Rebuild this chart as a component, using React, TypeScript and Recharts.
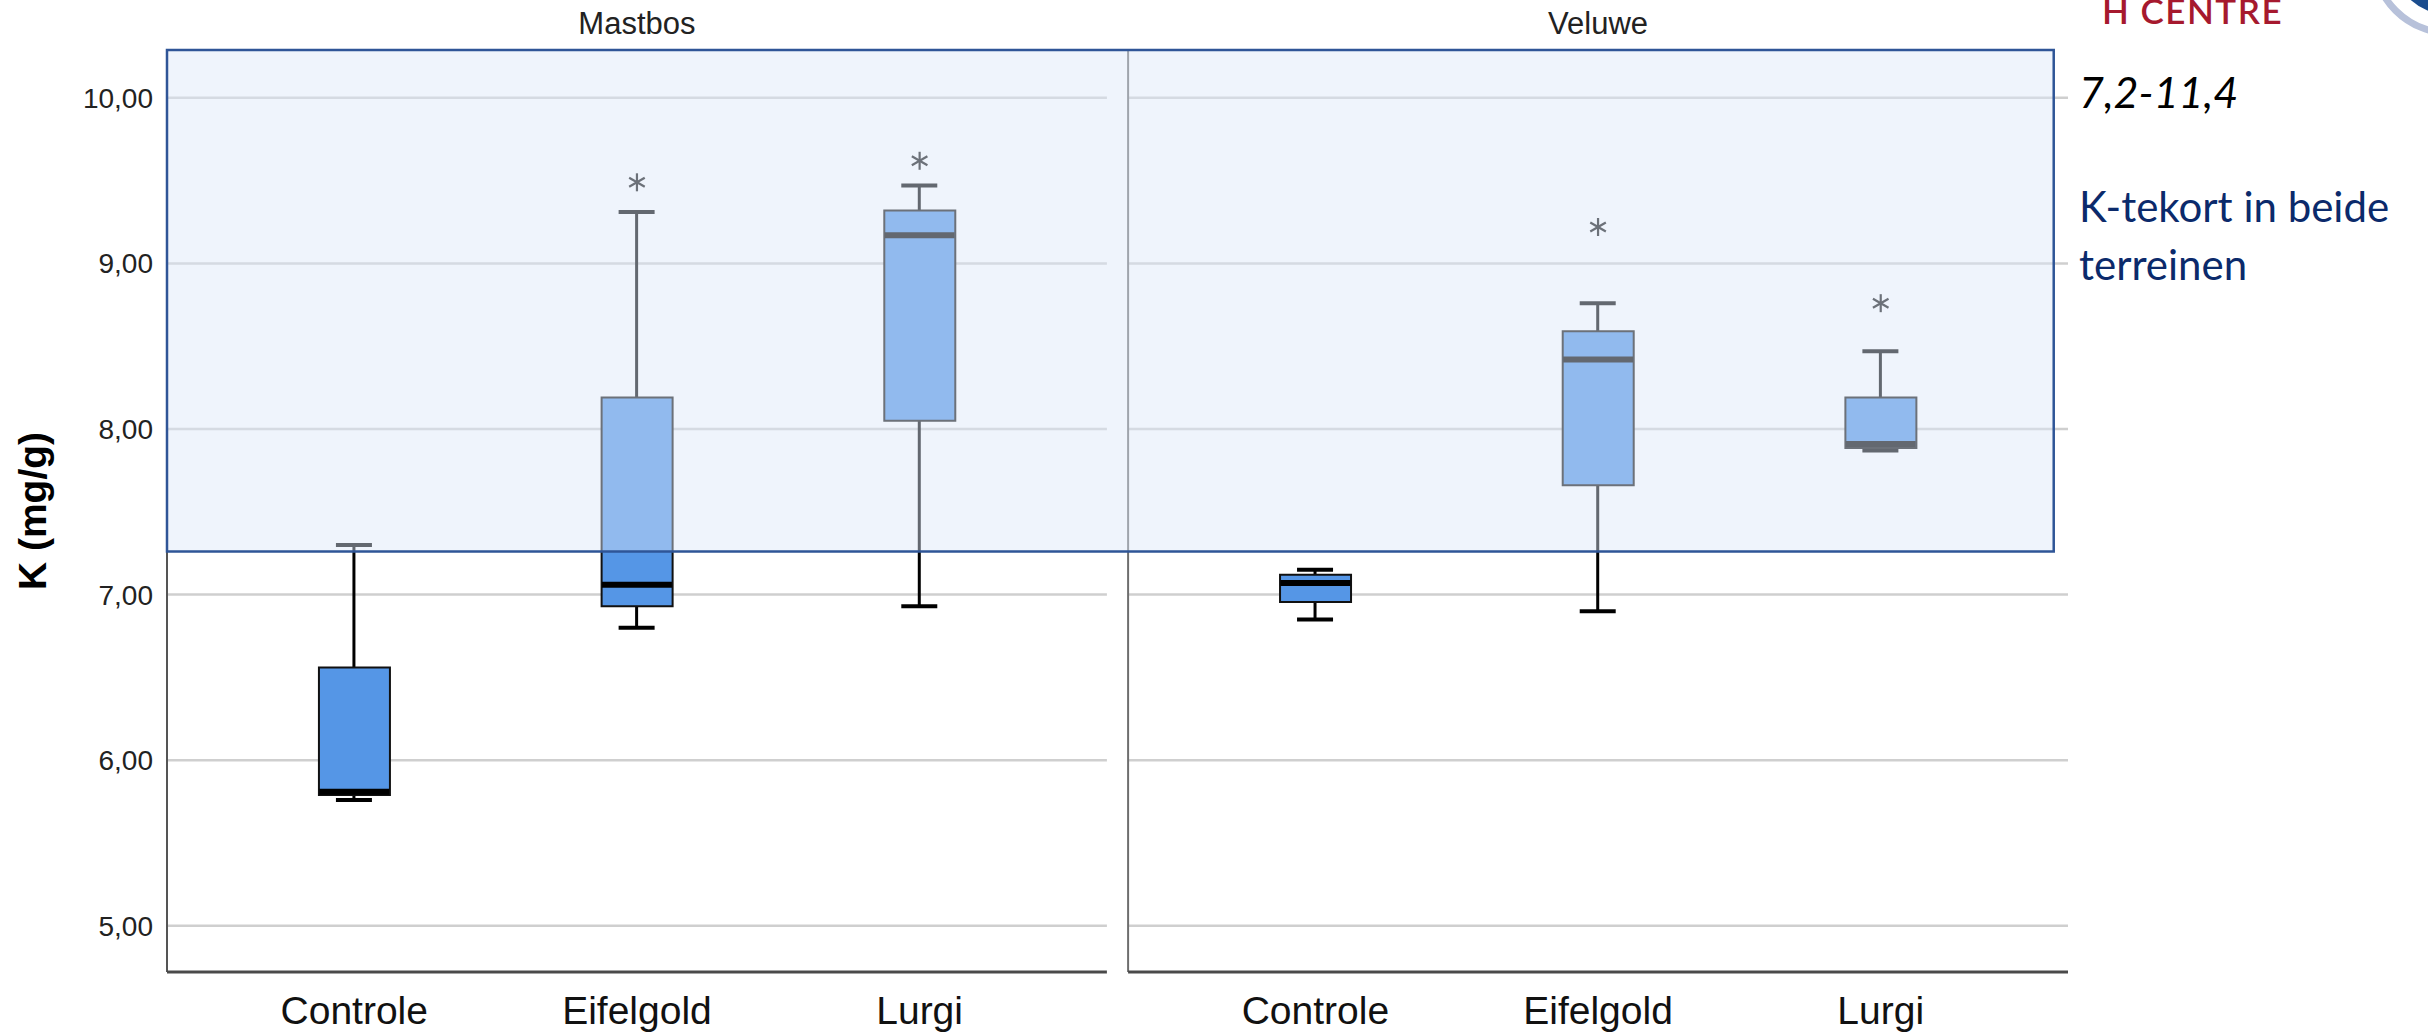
import React from 'react';
import {
  ComposedChart,
  Bar,
  Scatter,
  XAxis,
  YAxis,
  ReferenceLine,
  ReferenceArea,
  Label,
} from 'recharts';

// ---------- data ----------
const sites = ['Mastbos', 'Veluwe'];
const treatments = ['Controle', 'Eifelgold', 'Lurgi'];
const yTicks = [5, 6, 7, 8, 9, 10];

// order: Mastbos (Controle, Eifelgold, Lurgi), Veluwe (Controle, Eifelgold, Lurgi)
const whiskerLow = [5.76, 6.8, 6.93, 6.85, 6.9, 7.87];
const quartile1 = [5.79, 6.93, 8.05, 6.955, 7.66, 7.885];
const medians = [5.81, 7.06, 9.17, 7.07, 8.42, 7.91];
const quartile3 = [6.56, 8.19, 9.32, 7.12, 8.59, 8.19];
const whiskerHigh = [7.3, 9.31, 9.47, 7.15, 8.76, 8.47];
const extremes: (number | null)[] = [null, 9.49, 9.62, null, 9.22, 8.76];

const normalRangeLow = 7.26; // highlighted band "7,2-11,4"
const rangeLabel = '7,2-11,4';
const noteLines = ['K-tekort in beide', 'terreinen'];
const yAxisTitle = 'K (mg/g)';

// ---------- layout constants ----------
const SITE_GAP = 0.4;
const PAD = 0.6625;
const Y_MIN = 4.721;
const Y_MAX = 10.289;
const X_MIN = -PAD;
const X_MAX = (sites.length - 1) * (treatments.length + SITE_GAP) + treatments.length - 1 + PAD;
const OVERLAY_RIGHT = 6.012;

const pos = (s: number, i: number) => s * (treatments.length + SITE_GAP) + i;

const rows = sites.flatMap((site, s) =>
  treatments.map((t, i) => {
    const k = s * treatments.length + i;
    return {
      x: pos(s, i),
      label: t,
      site,
      whisker: [whiskerLow[k], whiskerHigh[k]],
      box: [quartile1[k], quartile3[k]],
      median: medians[k],
      extreme: extremes[k],
    };
  })
);
const extremeRows = rows.filter((r) => r.extreme != null);
const xTicks = rows.map((r) => r.x);
const titleTicks = sites.map((_, s) => pos(s, 1));

// panel extents
const panels = sites.map((_, s) => ({
  left: pos(s, 0) - PAD,
  right: pos(s, treatments.length - 1) + PAD,
}));

const fmt = (v: number) => v.toFixed(2).replace('.', ',');
const AX_FONT = "'Liberation Sans', Arial, sans-serif";
const NOTE_FONT = "Lato, 'Open Sans', sans-serif";

const WhiskerShape = (p: any) => {
  const { x, y, width, height } = p;
  if (x == null || y == null) return null;
  const cx = x + width / 2;
  return (
    <g>
      <line x1={cx} x2={cx} y1={y} y2={y + height} stroke="#000" strokeWidth={3} />
      <line x1={x} x2={x + width} y1={y} y2={y} stroke="#000" strokeWidth={4} />
      <line x1={x} x2={x + width} y1={y + height} y2={y + height} stroke="#000" strokeWidth={4} />
    </g>
  );
};

const MedianShape = (p: any) => {
  const { cx, cy } = p;
  if (cx == null || cy == null) return null;
  return <line x1={cx - 35} x2={cx + 35} y1={cy} y2={cy} stroke="#000" strokeWidth={6} />;
};

const AsteriskShape = (p: any) => {
  const { cx, cy } = p;
  if (cx == null || cy == null) return null;
  const r = 9;
  const dx = r * Math.cos(Math.PI / 6);
  const dy = r * Math.sin(Math.PI / 6);
  return (
    <g stroke="#111" strokeWidth={2.2}>
      <line x1={cx} x2={cx} y1={cy - r} y2={cy + r} />
      <line x1={cx - dx} x2={cx + dx} y1={cy - dy} y2={cy + dy} />
      <line x1={cx - dx} x2={cx + dx} y1={cy + dy} y2={cy - dy} />
    </g>
  );
};

export default function App() {
  return (
    <div style={{ position: 'absolute', left: 0, top: 0, width: 2428, height: 1035, background: '#fff', overflow: 'hidden' }}>
      <ComposedChart
        width={2428}
        height={1035}
        data={rows}
        margin={{ top: 0, right: 360, bottom: 0, left: 17 }}
      >
        <XAxis
          xAxisId="x"
          dataKey="x"
          type="number"
          domain={[X_MIN, X_MAX]}
          allowDataOverflow
          ticks={xTicks}
          interval={0}
          tickFormatter={(v: number) => rows.find((r) => Math.abs(r.x - v) < 1e-6)?.label ?? ''}
          axisLine={false}
          tickLine={false}
          tickSize={0}
          tickMargin={24}
          height={63}
          tick={{ fontSize: 39, fill: '#111', fontFamily: AX_FONT }}
        />
        <XAxis
          xAxisId="xw"
          dataKey="x"
          type="number"
          domain={[X_MIN, X_MAX]}
          allowDataOverflow
          hide
        />
        <XAxis
          xAxisId="top"
          orientation="top"
          dataKey="x"
          type="number"
          domain={[X_MIN, X_MAX]}
          allowDataOverflow
          ticks={titleTicks}
          interval={0}
          tickFormatter={(v: number) => sites[titleTicks.findIndex((t) => Math.abs(t - v) < 1e-6)] ?? ''}
          axisLine={false}
          tickLine={false}
          tickSize={0}
          tickMargin={16}
          height={50}
          tick={{ fontSize: 31, fill: '#222', fontFamily: AX_FONT }}
        />
        <YAxis
          type="number"
          domain={[Y_MIN, Y_MAX]}
          allowDataOverflow
          ticks={yTicks}
          interval={0}
          tickFormatter={fmt}
          width={150}
          axisLine={{ stroke: '#555', strokeWidth: 2 }}
          tickLine={false}
          tickSize={0}
          tickMargin={14}
          tick={{ fontSize: 28, fill: '#222', fontFamily: AX_FONT }}
        >
          <Label
            value={yAxisTitle}
            angle={-90}
            position="center"
            dx={-60}
            style={{ fontSize: 39, fontWeight: 700, fill: '#000', fontFamily: AX_FONT }}
          />
        </YAxis>

        {/* gridlines per panel */}
        {panels.flatMap((p, s) =>
          yTicks.map((v) => (
            <ReferenceLine
              key={`g-${s}-${v}`}
              xAxisId="x"
              segment={[{ x: p.left, y: v }, { x: p.right, y: v }]}
              stroke="#cfcfcf"
              strokeWidth={2.5}
              zIndex={-100}
            />
          ))
        )}
        {/* left border of second panel */}
        {panels.slice(1).map((p, s) => (
          <ReferenceLine
            key={`v-${s}`}
            xAxisId="x"
            segment={[{ x: p.left, y: Y_MIN }, { x: p.left, y: Y_MAX }]}
            stroke="#6e6e6e"
            strokeWidth={2}
            zIndex={-90}
          />
        ))}

        <Bar
          xAxisId="xw"
          dataKey="whisker"
          barSize={36}
          shape={WhiskerShape}
          isAnimationActive={false}
        />
        <Bar
          xAxisId="x"
          dataKey="box"
          barSize={71}
          fill="#5596E6"
          stroke="#111"
          strokeWidth={2}
          isAnimationActive={false}
        />
        <Scatter
          xAxisId="x"
          data={rows}
          dataKey="median"
          shape={MedianShape}
          isAnimationActive={false}
        />
        <Scatter
          xAxisId="x"
          data={extremeRows}
          dataKey="extreme"
          shape={AsteriskShape}
          isAnimationActive={false}
        />

        {/* bottom axis segments */}
        {panels.map((p, s) => (
          <ReferenceLine
            key={`b-${s}`}
            xAxisId="x"
            segment={[{ x: p.left, y: Y_MIN }, { x: p.right, y: Y_MIN }]}
            stroke="#4a4a4a"
            strokeWidth={3}
            zIndex={700}
          />
        ))}

        <ReferenceArea
          xAxisId="x"
          x1={X_MIN}
          x2={OVERLAY_RIGHT}
          y1={normalRangeLow}
          y2={Y_MAX}
          ifOverflow="visible"
          fill="rgb(220,231,248)"
          fillOpacity={0.45}
          stroke="#2F5597"
          strokeWidth={2.5}
          zIndex={1500}
        />
      </ComposedChart>

      <svg
        width={2428}
        height={1035}
        style={{ position: 'absolute', left: 0, top: 0, pointerEvents: 'none' }}
      >
        <text x={2079} y={108} fontFamily={NOTE_FONT} fontStyle="italic" fontSize={43} fill="#000">
          {rangeLabel}
        </text>
        {noteLines.map((t, i) => (
          <text key={t} x={2079} y={222 + i * 58} fontFamily={NOTE_FONT} fontSize={42} fill="#0B2A6B">
            {t}
          </text>
        ))}
        <text x={2102} y={24} fontFamily={NOTE_FONT} fontWeight={600} fontSize={35} letterSpacing={1.5} fill="#A6192E">
          H CENTRE
        </text>
        <circle cx={2450} cy={-44} r={77} fill="none" stroke="#B7C1DA" strokeWidth={7} />
        <circle cx={2450} cy={-44} r={59} fill="#1B4D8E" />
      </svg>
    </div>
  );
}
